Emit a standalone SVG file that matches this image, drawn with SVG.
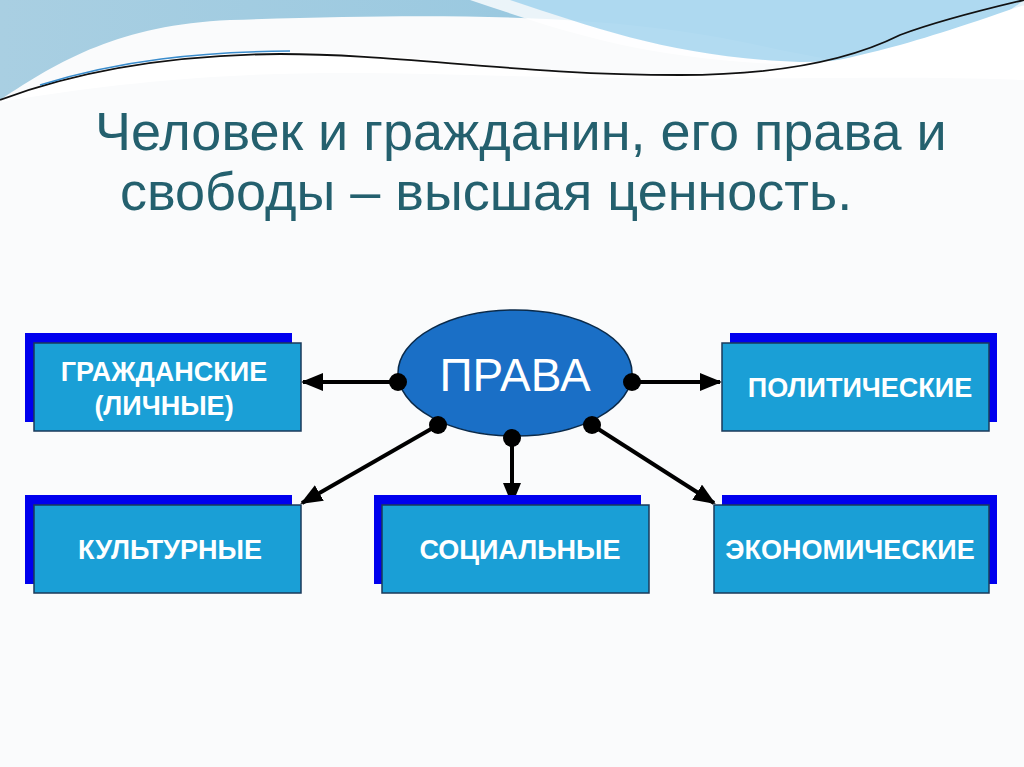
<svg xmlns="http://www.w3.org/2000/svg" width="1024" height="767" viewBox="0 0 1024 767">
<defs>
<linearGradient id="sky" x1="0" y1="0" x2="1" y2="0"><stop offset="0" stop-color="#a9cfe2"/><stop offset="1" stop-color="#8cc3de"/></linearGradient>
<marker id="ah" markerWidth="22" markerHeight="18" refX="20" refY="9" orient="auto" markerUnits="userSpaceOnUse"><path d="M0,0 L22,9 L0,18 Z" fill="#000"/></marker>
<style>
.back{fill:#0000ee}
.front{fill:#1a9fd6;stroke:#1a3a5a;stroke-width:1.5}
.lbl{font-family:"Liberation Sans",Arial,sans-serif;font-weight:bold;font-size:27px;fill:#fff;text-anchor:middle}
.title{font-family:"Liberation Sans",Arial,sans-serif;font-size:54px;fill:#24606e}
.con{stroke:#000;stroke-width:4;fill:none;marker-end:url(#ah)}
</style>
</defs>
<rect width="1024" height="767" fill="#fafbfc"/>
<path d="M0,0 H1024 V40 C960,80 880,70 780,50 C650,20 520,10 230,20 C120,25 60,60 0,100 Z" fill="url(#sky)"/>
<path d="M470,0 C560,30 640,60 800,65 C900,65 980,40 1024,5 V0 Z" fill="#ffffff" opacity="0.8"/>
<path d="M510,0 C600,30 680,58 800,62 C900,62 980,35 1024,0 Z" fill="#9fd2ee" opacity="0.8"/>
<path d="M0,102 C100,60 200,50 300,52 C450,55 560,80 700,75 C820,70 880,55 1024,5 V80 C900,75 800,80 600,78 C400,75 250,60 0,102 Z" fill="#ffffff"/>
<path d="M0,100 C80,70 170,55 280,54 C400,54 520,75 680,75 C780,75 850,60 900,35 C940,20 990,8 1024,0" stroke="#111" stroke-width="1.8" fill="none"/>
<path d="M40,85 C120,60 200,52 290,51" stroke="#3a8ccc" stroke-width="1.5" fill="none"/>
<text class="title" x="95" y="150">Человек и гражданин, его права и</text>
<text class="title" x="120" y="210">свободы – высшая ценность.</text>
<g id="connectors">
<line class="con" x1="398" y1="382" x2="303" y2="382"/>
<line class="con" x1="632" y1="382" x2="720" y2="382"/>
<line class="con" x1="438" y1="425" x2="302" y2="503"/>
<line class="con" x1="512" y1="438" x2="512" y2="503"/>
<line class="con" x1="592" y1="425" x2="714" y2="503"/>
</g>
<g id="prava">
<ellipse cx="515" cy="373" rx="117" ry="63" fill="#1a6fc6" stroke="#0a2a4a" stroke-width="1.5"/>
<text x="515" y="391" font-family="Liberation Sans,Arial,sans-serif" font-size="46" fill="#fff" text-anchor="middle">ПРАВА</text>
<circle cx="398" cy="382" r="9"/><circle cx="632" cy="382" r="9"/><circle cx="438" cy="425" r="9"/><circle cx="512" cy="438" r="9"/><circle cx="592" cy="425" r="9"/>
</g>
<g id="grazhd"><rect class="back" x="25" y="333" width="267" height="89"/><rect class="front" x="34" y="343" width="267" height="88"/><text class="lbl" x="164" y="381">ГРАЖДАНСКИЕ</text><text class="lbl" x="164" y="415">(ЛИЧНЫЕ)</text></g>
<g id="polit"><rect class="back" x="730" y="333" width="267" height="89"/><rect class="front" x="722" y="343" width="267" height="88"/><text class="lbl" x="860" y="397">ПОЛИТИЧЕСКИЕ</text></g>
<g id="kult"><rect class="back" x="25" y="495" width="267" height="89"/><rect class="front" x="34" y="505" width="267" height="88"/><text class="lbl" x="170" y="559">КУЛЬТУРНЫЕ</text></g>
<g id="soc"><rect class="back" x="374" y="495" width="267" height="89"/><rect class="front" x="382" y="505" width="267" height="88"/><text class="lbl" x="520" y="559">СОЦИАЛЬНЫЕ</text></g>
<g id="econ"><rect class="back" x="722" y="495" width="275" height="89"/><rect class="front" x="714" y="505" width="275" height="88"/><text class="lbl" x="850" y="559">ЭКОНОМИЧЕСКИЕ</text></g>
</svg>
